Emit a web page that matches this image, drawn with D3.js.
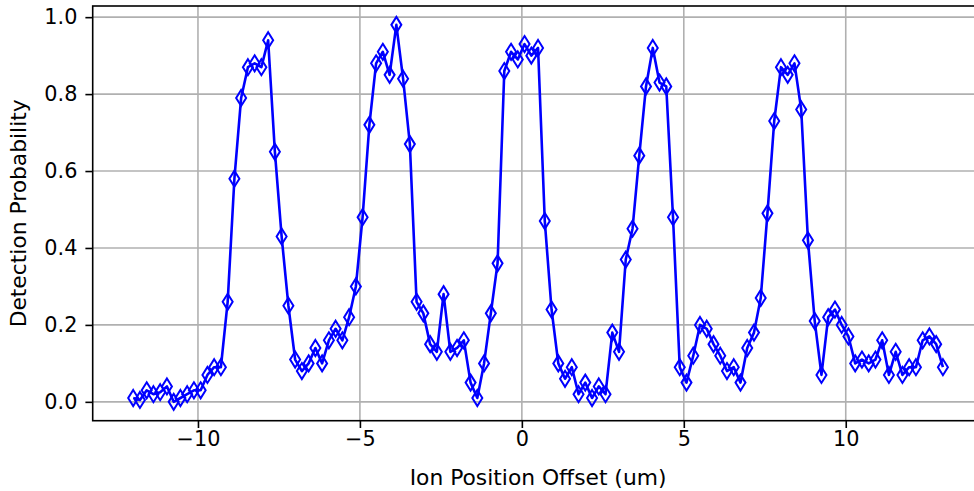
<!DOCTYPE html>
<html>
<head>
<meta charset="utf-8">
<script src="https://cdn.jsdelivr.net/npm/d3@7"></script>
<style>
	body { margin: 0; background: #fff; }
	svg { display: block; }
	text { font-family: "DejaVu Sans", sans-serif; fill: #000; }
	.axis text { font-size: 20.8px; }
	.axisLabel { font-size: 21.8px; }
	.grid line { stroke: #b0b0b0; stroke-width: 1.6px; }
	.trace { fill: none; stroke: #0000ff; stroke-width: 2.6px; stroke-linejoin: round; }
	.marker { fill: none; stroke: #0000ff; stroke-width: 2px; }
</style>
</head>
<body>
<div id="chart"></div>
<script>
// ion position offset (um)
var positions = [
	-12.000, -11.792, -11.583, -11.375, -11.167, -10.958, -10.750, -10.542, -10.333, -10.125,
	-9.917, -9.708, -9.500, -9.292, -9.083, -8.875, -8.667, -8.458, -8.250, -8.042,
	-7.833, -7.625, -7.417, -7.208, -7.000, -6.792, -6.583, -6.375, -6.167, -5.958,
	-5.750, -5.542, -5.333, -5.125, -4.917, -4.708, -4.500, -4.292, -4.083, -3.875,
	-3.667, -3.458, -3.250, -3.042, -2.833, -2.625, -2.417, -2.208, -2.000, -1.792,
	-1.583, -1.375, -1.167, -0.958, -0.750, -0.542, -0.333, -0.125, 0.083, 0.292,
	0.500, 0.708, 0.917, 1.125, 1.333, 1.542, 1.750, 1.958, 2.167, 2.375,
	2.583, 2.792, 3.000, 3.208, 3.417, 3.625, 3.833, 4.042, 4.250, 4.458,
	4.667, 4.875, 5.083, 5.292, 5.500, 5.708, 5.917, 6.125, 6.333, 6.542,
	6.750, 6.958, 7.167, 7.375, 7.583, 7.792, 8.000, 8.208, 8.417, 8.625,
	8.833, 9.042, 9.250, 9.458, 9.667, 9.875, 10.083, 10.292, 10.500, 10.708,
	10.917, 11.125, 11.333, 11.542, 11.750, 11.958, 12.167, 12.375, 12.583, 12.792,
	13.000
]

// detection probability
var probabilities = [
	0.01, 0.005, 0.03, 0.02, 0.025, 0.04, 0.0, 0.01, 0.02, 0.03,
	0.03, 0.07, 0.09, 0.09, 0.26, 0.58, 0.79, 0.87, 0.88, 0.87,
	0.94, 0.65, 0.43, 0.25, 0.11, 0.08, 0.10, 0.14, 0.10, 0.16,
	0.19, 0.16, 0.22, 0.30, 0.48, 0.72, 0.88, 0.91, 0.85, 0.98,
	0.84, 0.67, 0.26, 0.23, 0.15, 0.13, 0.28, 0.13, 0.14, 0.16,
	0.05, 0.01, 0.10, 0.23, 0.36, 0.86, 0.91, 0.89, 0.93, 0.90,
	0.92, 0.47, 0.24, 0.10, 0.06, 0.09, 0.02, 0.05, 0.01, 0.04,
	0.02, 0.18, 0.13, 0.37, 0.45, 0.64, 0.82, 0.92, 0.83, 0.82,
	0.48, 0.09, 0.05, 0.12, 0.20, 0.19, 0.15, 0.12, 0.08, 0.09,
	0.05, 0.14, 0.18, 0.27, 0.49, 0.73, 0.87, 0.85, 0.88, 0.76,
	0.42, 0.21, 0.07, 0.22, 0.24, 0.20, 0.17, 0.10, 0.11, 0.10,
	0.11, 0.16, 0.07, 0.13, 0.07, 0.09, 0.09, 0.16, 0.17, 0.15,
	0.09
]

var xTicks = [-10, -5, 0, 5, 10]
var yTicks = [0.0, 0.2, 0.4, 0.6, 0.8, 1.0]

var WIDTH = 974
var HEIGHT = 491
var LEFT = 92.7
var TOP = 6
var RIGHT = 983.4
var BOTTOM = 420.7
var TICK = 7.3

function buildChart(){
	var data = positions.map(function(p, i){ return {x: p, y: probabilities[i]} })

	var x = d3.scaleLinear()
		.domain([-13.25, 14.25])
		.range([LEFT, RIGHT])

	var y = d3.scaleLinear()
		.domain([-0.049, 1.029])
		.range([BOTTOM, TOP])

	var svg = d3.select("#chart").append("svg")
		.attr("width", WIDTH)
		.attr("height", HEIGHT)

	// grid
	var grid = svg.append("g").attr("class", "grid")
	grid.selectAll(".vgrid")
		.data(xTicks)
		.enter()
		.append("line")
		.attr("x1", function(d){ return x(d) })
		.attr("x2", function(d){ return x(d) })
		.attr("y1", TOP)
		.attr("y2", BOTTOM)
	grid.selectAll(".hgrid")
		.data(yTicks)
		.enter()
		.append("line")
		.attr("x1", LEFT)
		.attr("x2", RIGHT)
		.attr("y1", function(d){ return y(d) })
		.attr("y2", function(d){ return y(d) })

	var line = d3.line()
		.x(function(d){ return x(d.x) })
		.y(function(d){ return y(d.y) })

	svg.append("path")
		.datum(data)
		.attr("class", "trace")
		.attr("d", line)

	svg.selectAll(".marker")
		.data(data)
		.enter()
		.append("path")
		.attr("class", "marker")
		.attr("d", "M0,-8L5,0L0,8L-5,0Z")
		.attr("transform", function(d){
			return "translate(" + x(d.x) + "," + y(d.y) + ")"
		})

	// axes
	var xAxis = d3.axisBottom(x)
		.tickValues(xTicks)
		.tickSize(TICK)
		.tickPadding(3.7)
		.tickFormat(function(d){ return d < 0 ? "\u2212" + Math.abs(d) : "" + d })

	var yAxis = d3.axisLeft(y)
		.tickValues(yTicks)
		.tickSize(TICK)
		.tickPadding(8)
		.tickFormat(d3.format(".1f"))

	svg.append("g")
		.attr("class", "x axis")
		.attr("transform", "translate(0," + BOTTOM + ")")
		.call(xAxis)
	svg.append("g")
		.attr("class", "y axis")
		.attr("transform", "translate(" + LEFT + ",0)")
		.call(yAxis)

	svg.selectAll(".axis .domain").remove()
	svg.selectAll(".axis line").attr("stroke", "#000").attr("stroke-width", 1.6)
	svg.selectAll(".axis text").attr("fill", "#000").attr("font-family", null).attr("font-size", null)

	// frame
	svg.append("rect")
		.attr("x", LEFT)
		.attr("y", TOP)
		.attr("width", RIGHT - LEFT)
		.attr("height", BOTTOM - TOP)
		.attr("fill", "none")
		.attr("stroke", "#000")
		.attr("stroke-width", 1.6)

	svg.append("text")
		.attr("class", "axisLabel")
		.attr("x", (LEFT + RIGHT) / 2)
		.attr("y", 485)
		.attr("text-anchor", "middle")
		.text("Ion Position Offset (um)")

	svg.append("text")
		.attr("class", "axisLabel")
		.attr("transform", "translate(26," + ((TOP + BOTTOM) / 2) + ") rotate(-90)")
		.attr("text-anchor", "middle")
		.text("Detection Probability")
}

buildChart()
</script>
</body>
</html>
